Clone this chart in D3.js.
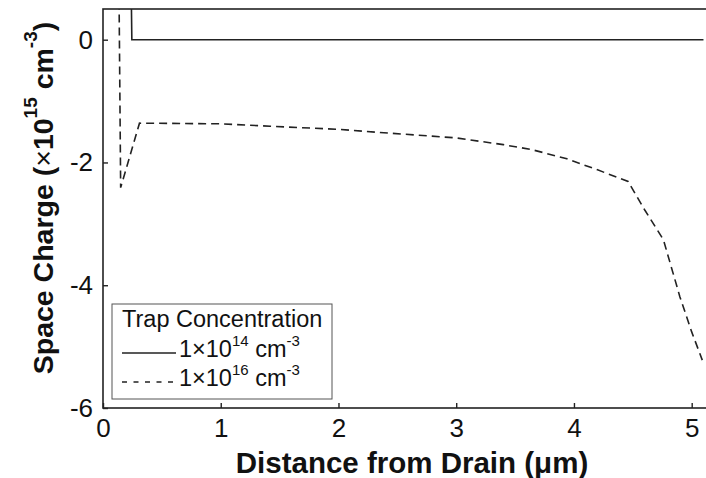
<!DOCTYPE html>
<html>
<head>
<meta charset="utf-8">
<script src="https://cdn.jsdelivr.net/npm/d3@7"></script>
<style>
  body { margin: 0; background: #fff; }
  text { font-family: Arial, "Liberation Sans", sans-serif; fill: #111; }
</style>
</head>
<body>
<div id="chart"></div>
<script>
// distance from drain (um) and space charge (x1e15 cm^-3)
const lowTrapX = [0, 0.235, 0.245, 5.1];
const lowTrapY = [1.5, 1.5, 0, 0];

const highTrapX = [0, 0.135, 0.15, 0.31, 1.0, 1.42, 2.0, 2.34, 3.0, 3.4, 3.64, 3.94, 4.2, 4.46, 4.6, 4.76, 4.9, 5.0, 5.09];
const highTrapY = [1.0, 1.0, -2.41, -1.36, -1.37, -1.41, -1.46, -1.51, -1.6, -1.71, -1.79, -1.94, -2.12, -2.31, -2.77, -3.26, -4.19, -4.76, -5.22];

const xTicks = [0, 1, 2, 3, 4, 5];
const yTicks = [0, -2, -4, -6];

const width = 706, height = 478;
const margin = { top: 9, right: -1, bottom: 70, left: 103 };

const svg = d3.select('#chart')
    .append('svg')
    .attr('width', width)
    .attr('height', height);

const x = d3.scaleLinear().domain([0, 5.13]).range([margin.left, width - margin.right]);
const y = d3.scaleLinear().domain([-6, 0.5]).range([height - margin.bottom, margin.top]);

svg.append('clipPath').attr('id', 'clip')
    .append('rect')
    .attr('x', x(0)).attr('y', y(0.5))
    .attr('width', x(5.13) - x(0)).attr('height', y(-6) - y(0.5));

const line = d3.line().x(d => x(d[0])).y(d => y(d[1]));

// solid series
svg.append('path')
    .datum(d3.zip(lowTrapX, lowTrapY))
    .attr('clip-path', 'url(#clip)')
    .attr('d', line)
    .attr('fill', 'none')
    .attr('stroke', '#222')
    .attr('stroke-width', 1.6);

// dashed series
svg.append('path')
    .datum(d3.zip(highTrapX, highTrapY))
    .attr('clip-path', 'url(#clip)')
    .attr('d', line)
    .attr('fill', 'none')
    .attr('stroke', '#222')
    .attr('stroke-width', 1.6)
    .attr('stroke-dasharray', '8,5');

// axes box
svg.append('rect')
    .attr('x', x(0)).attr('y', y(0.5))
    .attr('width', x(5.13) - x(0)).attr('height', y(-6) - y(0.5))
    .attr('fill', 'none')
    .attr('stroke', '#222')
    .attr('stroke-width', 1.6);

// ticks, pointing inward
const xAxis = svg.append('g')
    .attr('transform', `translate(0,${y(-6)})`)
    .call(d3.axisBottom(x).tickValues(xTicks).tickSize(-5).tickPadding(11).tickFormat(d => String(d)));
const yAxis = svg.append('g')
    .attr('transform', `translate(${x(0)},0)`)
    .call(d3.axisLeft(y).tickValues(yTicks).tickSize(-5).tickPadding(10).tickFormat(d => String(d)));

[xAxis, yAxis].forEach(a => {
    a.select('.domain').remove();
    a.selectAll('.tick line').attr('stroke', '#222').attr('stroke-width', 1.4);
    a.selectAll('.tick text')
        .style('font-size', '26px')
        .style('font-family', 'Arial, "Liberation Sans", sans-serif')
        .attr('fill', '#111');
});
xAxis.selectAll('.tick text').attr('dy', '0.71em');

// x axis title
svg.append('text')
    .attr('x', 412)
    .attr('y', 473)
    .attr('text-anchor', 'middle')
    .style('font-size', '29.5px')
    .style('font-weight', 'bold')
    .text('Distance from Drain (\u03bcm)');

// y axis title with superscripts
const yTitle = svg.append('text')
    .attr('transform', 'translate(53,198) rotate(-90)')
    .attr('text-anchor', 'middle')
    .style('font-size', '28.5px')
    .style('font-weight', 'bold');
yTitle.append('tspan').text('Space Charge (');
yTitle.append('tspan').style('font-weight', 'normal').text('\u00d7');
yTitle.append('tspan').text('10');
yTitle.append('tspan').attr('dy', -16).style('font-size', '19px').text('15');
yTitle.append('tspan').attr('dy', 16).text(' cm');
yTitle.append('tspan').attr('dy', -16).style('font-size', '19px').text('-3');
yTitle.append('tspan').attr('dy', 16).text(')');

// legend
const legend = svg.append('g');
legend.append('rect')
    .attr('x', 112).attr('y', 304)
    .attr('width', 220).attr('height', 95)
    .attr('fill', '#fff')
    .attr('stroke', '#555')
    .attr('stroke-width', 1);

legend.append('text')
    .attr('x', 122).attr('y', 327)
    .style('font-size', '23.5px')
    .text('Trap Concentration');

const legendRows = [
    { exp: '14', dash: null, y: 357 },
    { exp: '16', dash: '5,6.5', y: 386 }
];

legendRows.forEach(r => {
    legend.append('line')
        .attr('x1', 122).attr('x2', 176)
        .attr('y1', r.y - 4).attr('y2', r.y - 4)
        .attr('stroke', '#222')
        .attr('stroke-width', 1.4)
        .attr('stroke-dasharray', r.dash);
    const t = legend.append('text')
        .attr('x', 179).attr('y', r.y)
        .style('font-size', '23.5px');
    t.append('tspan').text('1\u00d710');
    t.append('tspan').attr('dy', -11).style('font-size', '15px').text(r.exp);
    t.append('tspan').attr('dy', 11).text(' cm');
    t.append('tspan').attr('dy', -11).style('font-size', '15px').text('-3');
});
</script>
</body>
</html>
